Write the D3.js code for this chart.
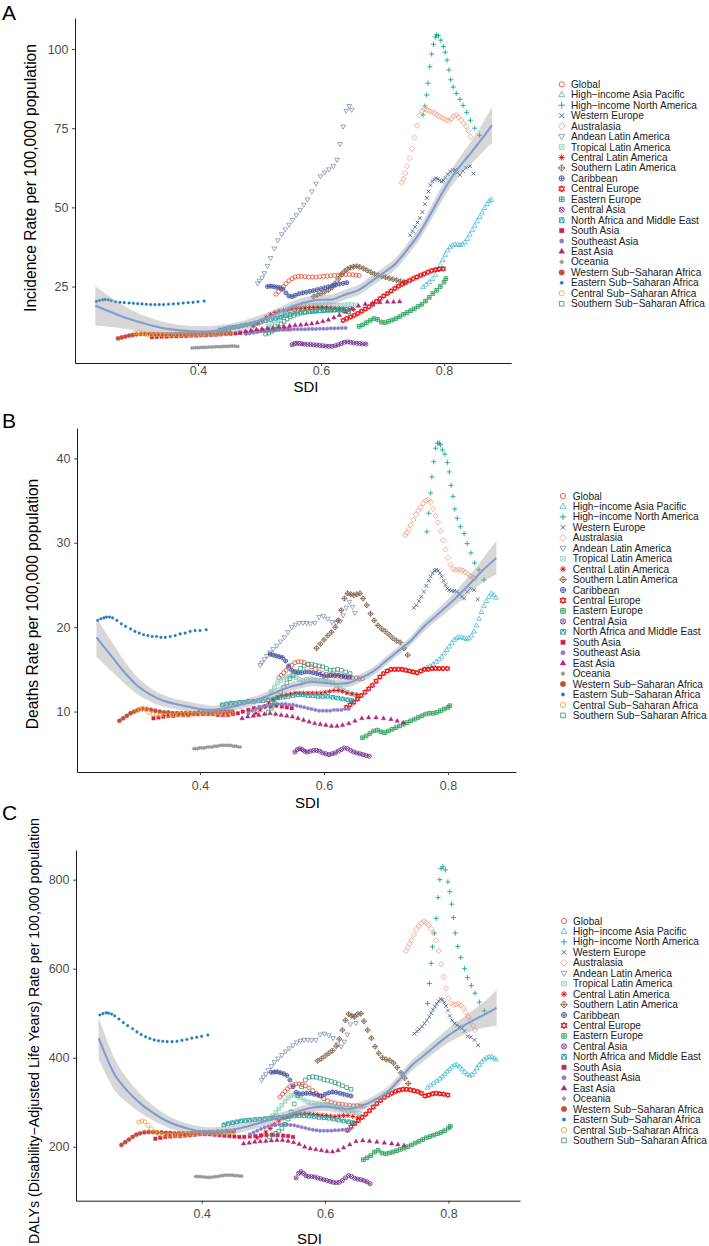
<!DOCTYPE html>
<html><head><meta charset="utf-8">
<script src="https://cdn.jsdelivr.net/npm/d3@7"></script>
<style>body{margin:0;background:#fff;}svg{display:block;font-family:"Liberation Sans",Arial,sans-serif;}</style>
</head><body><svg id="c" width="709" height="1246"></svg>
<script>
// ---------------- DATA ----------------
const regionNames = ["Global","High\u2212income Asia Pacific","High\u2212income North America","Western Europe","Australasia","Andean Latin America","Tropical Latin America","Central Latin America","Southern Latin America","Caribbean","Central Europe","Eastern Europe","Central Asia","North Africa and Middle East","South Asia","Southeast Asia","East Asia","Oceania","Western Sub\u2212Saharan Africa","Eastern Sub\u2212Saharan Africa","Central Sub\u2212Saharan Africa","Southern Sub\u2212Saharan Africa"];
const regionColors = ["#E64B35","#4DBBD5","#00A087","#3C5488","#F39B7F","#8491B4","#91D1C2","#DC0000","#7E6148","#3D4DA0","#ED0000","#1F9A50","#6E2A8E","#13989A","#D0204A","#8D7EC9","#B0287A","#999999","#C44E3C","#1F7CC0","#F0A030","#3A9A7A"];
const regionShapes = [1,2,3,4,5,6,7,8,9,10,11,12,13,14,15,16,17,18,19,20,21,22];

const sdiGlobal=[0.527,0.531,0.535,0.539,0.543,0.548,0.553,0.558,0.563,0.568,0.574,0.580,0.586,0.592,0.598,0.604,0.610,0.616,0.622,0.628,0.634,0.640,0.646,0.652,0.657,0.662];
const incGlobal=[22.6,23.4,24.2,25.0,25.9,26.8,27.5,28.0,28.2,28.2,28.1,28.0,28.0,28.0,28.1,28.2,28.3,28.4,28.5,28.6,28.7,28.8,28.8,28.7,28.6,28.5];
const dthGlobal=[14.0,14.3,14.6,14.9,15.2,15.5,15.8,15.9,15.9,15.8,15.6,15.3,15.0,14.7,14.5,14.4,14.3,14.2,14.2,14.1,14.1,14.0,14.0,14.0,13.9,13.9];
const dalyGlobal=[312,318,324,330,335,339,341,341,340,337,332,326,320,314,308,303,300,298,296,295,294,293,292,292,291,291];

const sdiHIAP=[0.766,0.771,0.776,0.781,0.786,0.790,0.794,0.798,0.802,0.806,0.810,0.814,0.818,0.822,0.826,0.830,0.834,0.838,0.842,0.846,0.850,0.854,0.858,0.862,0.866,0.870,0.874,0.877];
const incHIAP=[24.8,25.6,26.4,27.3,28.6,30.2,31.8,33.4,35.0,36.4,37.4,38.0,38.3,38.2,38.1,38.3,39.0,40.0,41.4,42.8,44.2,45.6,47.0,48.4,49.8,51.0,52.0,52.4];
const dthHIAP=[15.2,15.4,15.6,15.9,16.2,16.5,16.9,17.3,17.7,18.1,18.5,18.7,18.8,18.8,18.7,18.6,18.7,19.0,19.5,20.2,21.0,21.8,22.5,23.1,23.6,24.0,23.8,23.5];
const dalyHIAP=[333,338,343,348,353,358,363,369,375,380,384,384,380,374,368,363,360,362,368,376,384,391,396,400,402,402,399,396];

const sdiHINA=[0.766,0.769,0.772,0.774,0.777,0.780,0.783,0.786,0.788,0.791,0.795,0.799,0.802,0.805,0.808,0.811,0.815,0.820,0.826,0.831,0.837,0.843,0.850,0.858];
const incHINA=[79.2,82.0,85.5,89.2,94.4,98.4,101.5,103.8,104.5,104.2,102.8,100.8,99.0,96.5,93.4,90.3,88.0,86.0,84.1,82.2,80.0,77.5,75.0,72.8];
const dthHINA=[31.3,33.5,35.9,37.8,39.6,41.2,41.8,41.8,41.6,41.0,40.5,39.5,38.4,36.8,35.5,34.0,32.9,31.9,31.1,29.9,28.8,27.6,26.8,25.6];
const dalyHINA=[522,567,612,649,680,713,760,800,825,829,822,795,773,745,715,680,650,625,600,580,562,545,525,505];

const sdiWE=[0.745,0.749,0.753,0.757,0.761,0.765,0.769,0.772,0.775,0.778,0.781,0.784,0.787,0.790,0.793,0.796,0.799,0.802,0.806,0.810,0.814,0.818,0.822,0.826,0.831,0.836,0.842,0.848];
const incWE=[41.2,42.5,43.8,45.2,46.6,48.5,51.0,53.0,55.0,57.0,58.2,58.8,59.2,59.0,58.5,58.2,58.5,59.4,60.5,61.3,61.8,61.8,61.0,60.2,61.5,62.5,63.0,60.7];
const dthWE=[22.3,22.6,23.1,23.6,24.2,24.9,25.5,26.0,26.4,26.7,26.8,26.7,26.4,26.0,25.5,25.0,24.6,24.4,24.3,24.3,24.2,24.0,23.6,23.4,24.2,24.6,24.4,23.3];
const dalyWE=[454,459,464,470,477,484,492,500,508,515,521,527,532,530,524,516,506,494,484,477,473,470,466,460,448,446,440,428];

const sdiAUS=[0.731,0.734,0.737,0.740,0.744,0.748,0.752,0.756,0.760,0.764,0.768,0.772,0.776,0.780,0.784,0.788,0.792,0.796,0.800,0.804,0.808,0.812,0.816,0.820,0.824,0.828,0.832,0.836,0.840,0.843];
const incAUS=[57.8,59.0,60.8,63.0,65.5,68.5,72.0,75.8,79.0,80.5,81.0,80.8,80.5,80.2,79.8,79.3,78.8,78.4,78.0,77.6,77.4,78.0,78.8,79.2,78.5,77.6,76.6,75.6,74.2,72.3];
const dthAUS=[30.9,31.2,31.6,32.1,32.7,33.3,33.8,34.2,34.7,35.0,35.1,34.8,34.0,33.2,32.4,31.4,30.3,29.2,28.2,27.4,26.9,26.8,26.8,26.8,26.7,26.5,26.3,26.1,25.9,25.8];
const dalyAUS=[640,648,656,664,676,688,696,702,706,704,698,690,680,664,640,610,582,556,534,522,519,520,521,518,512,502,492,483,472,462];

const sdiAND=[0.497,0.500,0.504,0.508,0.513,0.518,0.524,0.530,0.536,0.542,0.548,0.554,0.560,0.566,0.572,0.578,0.585,0.592,0.599,0.606,0.613,0.620,0.626,0.631,0.636,0.641,0.646,0.650];
const incAND=[26.0,26.8,27.8,29.2,31.5,34.0,37.0,39.6,41.5,43.0,44.5,46.0,47.5,49.2,50.8,52.5,55.0,57.5,59.8,61.0,62.0,63.0,65.0,70.0,75.5,80.5,82.0,80.8];
const dthAND=[15.5,15.8,16.2,16.6,17.0,17.4,17.8,18.3,18.8,19.4,20.0,20.3,20.5,20.5,20.5,20.4,20.5,21.2,21.3,21.0,20.6,20.5,20.7,21.4,22.3,23.0,22.4,21.7];
const dalyAND=[350,356,363,372,381,390,398,406,414,421,428,434,438,440,440,439,440,452,454,450,444,430,425,436,452,475,494,478];

const sdiTLA=[0.515,0.520,0.525,0.530,0.535,0.540,0.545,0.550,0.555,0.560,0.566,0.572,0.578,0.584,0.590,0.596,0.602,0.608,0.614,0.620,0.626,0.632,0.638,0.644,0.650,0.656];
const incTLA=[12.5,13.0,13.6,14.3,15.2,16.2,17.2,18.0,18.5,18.8,18.9,18.9,19.0,19.0,19.1,19.2,19.2,19.3,19.3,19.2,19.1,19.1,19.2,19.3,19.3,19.2];
const dthTLA=[12.4,12.9,13.4,13.7,14.0,14.1,14.2,14.2,14.0,13.8,13.7,13.8,13.9,13.8,13.7,13.7,13.6,13.5,13.4,13.1,12.8,12.5,12.3,12.1,12.0,11.8];
const dalyTLA=[270,277,285,293,302,310,315,316,314,310,305,301,299,298,297,296,295,293,291,288,285,282,280,278,276,275];

const sdiCLA=[0.490,0.497,0.504,0.511,0.518,0.525,0.532,0.539,0.546,0.553,0.560,0.567,0.574,0.581,0.588,0.595,0.602,0.609,0.616,0.623,0.630,0.637,0.645,0.653];
const incCLA=[12.5,13.3,14.3,15.3,16.2,16.8,17.2,17.5,17.7,17.9,18.0,18.1,18.2,18.3,18.3,18.4,18.4,18.3,18.2,18.1,18.0,17.9,17.8,17.8];
const dthCLA=[9.8,10.2,10.6,11.0,11.4,11.7,11.9,12.0,12.1,12.2,12.2,12.2,12.2,12.2,12.2,12.2,12.3,12.4,12.5,12.5,12.4,12.2,12.1,12.0];
const dalyCLA=[220,226,233,241,250,258,264,268,271,273,274,275,274,273,272,271,270,269,268,269,270,270,268,265];

const sdiSLA=[0.588,0.594,0.600,0.606,0.612,0.618,0.623,0.628,0.633,0.638,0.643,0.648,0.653,0.658,0.663,0.669,0.675,0.681,0.687,0.693,0.699,0.705,0.711,0.717,0.723,0.729,0.735];
const incSLA=[21.8,22.3,22.8,23.3,23.9,24.8,26.0,27.4,28.8,29.8,30.5,31.0,31.3,31.4,31.2,30.7,30.1,29.5,29.0,28.6,28.2,27.9,27.6,27.3,27.0,26.7,26.4];
const dthSLA=[17.5,18.0,18.5,19.0,19.4,20.0,20.8,22.0,23.4,24.0,23.9,23.8,23.9,24.0,23.4,22.6,21.6,20.8,20.2,19.8,19.5,19.1,18.7,18.4,18.2,17.5,16.7];
const dalySLA=[393,398,404,410,416,426,442,462,484,498,494,492,498,499,482,462,444,425,410,400,396,394,388,378,366,354,342];

const sdiCAR=[0.513,0.518,0.523,0.528,0.533,0.538,0.543,0.548,0.553,0.558,0.564,0.570,0.576,0.582,0.588,0.594,0.600,0.606,0.612,0.618,0.624,0.630,0.636,0.642];
const incCAR=[25.0,25.1,25.0,24.8,24.6,24.2,23.0,22.0,21.8,22.2,22.7,23.0,23.2,23.5,23.7,24.0,24.3,24.6,24.9,25.2,25.5,25.8,26.0,26.2];
const dthCAR=[16.8,16.7,16.6,16.5,16.4,16.0,15.4,14.9,14.7,14.6,14.6,14.7,14.7,14.6,14.5,14.4,14.2,14.2,14.3,14.3,14.3,14.2,14.1,14.1];
const dalyCAR=[367,368,368,366,364,360,350,335,322,319,319,320,320,318,316,314,318,321,323,322,320,318,316,314];

const sdiCE=[0.636,0.642,0.648,0.654,0.660,0.666,0.672,0.678,0.684,0.690,0.696,0.702,0.708,0.714,0.720,0.726,0.732,0.738,0.744,0.750,0.756,0.762,0.768,0.774,0.780,0.786,0.792,0.799];
const incCE=[14.3,14.9,15.4,15.9,16.5,17.2,17.9,18.6,19.4,20.3,21.2,22.0,22.8,23.6,24.4,25.1,25.7,26.3,26.9,27.5,28.0,28.5,29.0,29.5,30.0,30.3,30.5,30.6];
const dthCE=[10.5,10.8,11.1,11.5,11.9,12.3,12.7,13.1,13.6,14.1,14.5,14.8,15.0,15.0,15.0,15.0,14.9,14.8,14.7,14.6,14.8,15.0,15.0,15.1,15.1,15.1,15.1,15.1];
const dalyCE=[237,245,252,259,266,273,281,289,297,304,311,316,320,324,327,329,329,328,326,324,320,314,316,319,320,319,318,316];

const sdiEE=[0.662,0.668,0.674,0.680,0.686,0.692,0.698,0.704,0.710,0.716,0.722,0.728,0.734,0.740,0.746,0.752,0.758,0.764,0.770,0.776,0.782,0.788,0.794,0.800,0.803];
const incEE=[12.4,12.9,13.6,14.3,14.9,14.6,13.8,13.6,14.0,14.4,14.9,15.5,16.2,16.8,17.4,18.0,18.7,19.4,20.4,21.6,22.8,23.8,25.0,26.4,27.5];
const dthEE=[6.9,7.1,7.4,7.7,7.8,7.6,7.5,7.7,7.9,8.1,8.3,8.5,8.7,8.9,9.1,9.3,9.5,9.7,9.8,9.8,9.9,10.1,10.3,10.5,10.7];
const dalyEE=[171,175,180,188,192,186,184,186,188,191,194,197,200,204,208,212,216,220,223,226,229,232,236,242,246];

const sdiCA=[0.553,0.557,0.561,0.565,0.569,0.573,0.578,0.583,0.588,0.593,0.598,0.603,0.608,0.613,0.618,0.623,0.628,0.633,0.638,0.643,0.648,0.653,0.658,0.663,0.668,0.673];
const incCA=[6.6,7.0,7.1,7.0,6.9,6.8,6.7,6.7,6.6,6.5,6.4,6.3,6.2,6.1,6.1,6.3,6.6,7.0,7.4,7.5,7.4,7.2,7.1,7.0,6.9,6.8];
const dthCA=[5.2,5.5,5.6,5.5,5.3,5.2,5.3,5.4,5.4,5.3,5.1,5.0,4.9,5.0,5.1,5.3,5.5,5.7,5.6,5.4,5.2,5.1,5.0,4.9,4.8,4.7];
const dalyCA=[130,140,144,140,135,133,133,132,130,128,126,124,122,120,119,120,124,130,135,133,129,127,126,124,121,117];

const sdiNAME=[0.436,0.443,0.450,0.457,0.464,0.471,0.478,0.486,0.494,0.502,0.510,0.518,0.526,0.534,0.542,0.550,0.558,0.566,0.574,0.582,0.590,0.598,0.606,0.614,0.622,0.630,0.638,0.645];
const incNAME=[11.3,11.6,11.9,12.1,12.3,12.6,12.9,13.2,13.5,13.8,14.2,14.6,15.0,15.4,15.8,16.2,16.6,16.9,17.1,17.2,17.3,17.4,17.5,17.6,17.6,17.5,17.3,17.0];
const dthNAME=[10.8,10.9,11.0,11.0,11.1,11.1,11.2,11.2,11.3,11.3,11.4,11.5,11.6,11.7,11.8,11.9,12.0,12.0,11.9,11.9,11.8,11.8,11.8,11.7,11.6,11.5,11.4,11.3];
const dalyNAME=[249,252,254,256,258,259,260,261,262,263,264,265,266,267,268,269,270,270,269,268,266,265,264,262,260,258,256,254];

const sdiSA=[0.325,0.333,0.341,0.349,0.357,0.365,0.373,0.381,0.389,0.397,0.405,0.413,0.421,0.429,0.437,0.445,0.453,0.461,0.469,0.478,0.487,0.496,0.505,0.514,0.523,0.532,0.540,0.548];
const incSA=[9.0,9.1,9.2,9.2,9.3,9.3,9.4,9.4,9.5,9.5,9.6,9.6,9.7,9.8,9.9,10.0,10.1,10.2,10.4,10.6,10.8,11.0,11.2,11.4,11.5,11.6,11.6,11.5];
const dthSA=[9.2,9.3,9.4,9.5,9.5,9.6,9.6,9.6,9.7,9.7,9.7,9.7,9.7,9.6,9.6,9.6,9.7,9.8,10.0,10.2,10.4,10.5,10.6,10.6,10.7,10.6,10.5,10.4];
const dalySA=[218,220,222,223,224,224,225,226,227,228,228,228,227,226,225,224,223,222,222,223,224,225,226,227,226,225,224,222];

const sdiSEA=[0.478,0.484,0.490,0.496,0.502,0.508,0.514,0.520,0.526,0.532,0.538,0.544,0.550,0.556,0.562,0.568,0.574,0.580,0.586,0.592,0.598,0.604,0.610,0.616,0.622,0.628,0.634,0.640];
const incSEA=[10.0,10.2,10.4,10.6,10.8,10.9,11.0,11.1,11.2,11.3,11.3,11.4,11.4,11.5,11.5,11.5,11.5,11.6,11.6,11.6,11.7,11.7,11.7,11.8,11.8,11.8,11.9,11.9];
const dthSEA=[9.8,10.1,10.3,10.5,10.6,10.7,10.8,10.9,10.9,10.9,10.9,10.8,10.8,10.7,10.6,10.5,10.4,10.3,10.2,10.1,10.1,10.1,10.1,10.2,10.2,10.2,10.3,10.3];
const dalySEA=[228,232,236,240,243,246,248,249,250,250,250,249,248,246,244,242,240,238,237,236,236,236,236,237,237,238,238,239];

const sdiEA=[0.468,0.477,0.486,0.495,0.504,0.513,0.522,0.531,0.540,0.549,0.558,0.567,0.576,0.585,0.594,0.603,0.612,0.621,0.630,0.640,0.650,0.661,0.672,0.684,0.696,0.708,0.718,0.728];
const incEA=[10.4,10.8,11.1,11.4,11.6,11.8,12.0,12.2,12.4,12.6,12.8,12.9,13.1,13.3,13.6,14.0,14.5,15.2,16.0,17.0,18.0,18.9,19.5,19.8,20.0,20.2,20.2,20.3];
const dthEA=[9.2,9.4,9.5,9.6,9.7,9.8,9.7,9.6,9.5,9.4,9.2,9.0,8.8,8.6,8.5,8.4,8.3,8.3,8.4,8.6,8.9,9.2,9.3,9.3,9.2,9.1,8.9,8.7];
const dalyEA=[207,209,211,212,213,214,215,215,213,210,206,200,196,194,192,190,189,192,198,205,212,214,213,211,209,207,205,203];

const sdiOCE=[0.390,0.393,0.396,0.399,0.402,0.405,0.408,0.411,0.414,0.417,0.420,0.423,0.426,0.429,0.432,0.435,0.438,0.441,0.444,0.447,0.450,0.453,0.456,0.459,0.462,0.465];
const incOCE=[5.6,5.6,5.7,5.7,5.7,5.8,5.8,5.8,5.8,5.9,5.9,5.9,5.9,6.0,6.0,6.0,6.0,6.1,6.1,6.1,6.1,6.2,6.2,6.2,6.1,6.1];
const dthOCE=[5.6,5.6,5.6,5.7,5.7,5.7,5.7,5.8,5.8,5.8,5.8,5.9,5.9,5.9,6.0,6.0,6.0,6.0,6.0,6.0,6.0,5.9,5.9,5.9,5.8,5.8];
const dalyOCE=[133,133,133,133,132,132,131,131,131,132,132,133,133,134,135,135,136,136,136,136,136,135,135,135,134,134];

const sdiWSSA=[0.270,0.276,0.282,0.288,0.294,0.300,0.307,0.314,0.321,0.328,0.335,0.342,0.349,0.356,0.363,0.370,0.377,0.384,0.391,0.398,0.405,0.412,0.419,0.426,0.433,0.440,0.446,0.452];
const incWSSA=[8.6,8.9,9.2,9.5,9.7,9.9,10.0,10.0,10.0,10.0,9.9,9.9,9.9,9.9,9.9,10.0,10.0,10.0,10.1,10.1,10.1,10.2,10.2,10.2,10.3,10.3,10.4,10.4];
const dthWSSA=[8.9,9.2,9.5,9.8,10.0,10.2,10.3,10.3,10.2,10.1,10.0,9.9,9.9,9.8,9.8,9.8,9.8,9.8,9.8,9.9,9.9,9.9,9.9,10.0,10.0,10.0,10.0,10.0];
const dalyWSSA=[204,210,216,222,227,230,232,233,233,232,232,231,231,230,230,230,230,231,231,232,232,233,233,234,234,235,235,235];

const sdiESSA=[0.235,0.240,0.245,0.249,0.254,0.259,0.266,0.273,0.280,0.288,0.295,0.302,0.309,0.316,0.323,0.330,0.337,0.344,0.352,0.360,0.368,0.376,0.384,0.392,0.400,0.410];
const incESSA=[20.3,20.6,20.8,20.9,20.8,20.5,20.2,20.0,19.9,19.8,19.7,19.6,19.5,19.4,19.3,19.3,19.3,19.3,19.4,19.5,19.6,19.8,19.9,20.0,20.2,20.4];
const dthESSA=[20.8,21.0,21.1,21.2,21.2,21.1,20.8,20.4,20.1,19.8,19.5,19.3,19.1,19.0,18.9,18.9,18.8,18.8,18.9,19.0,19.2,19.3,19.5,19.6,19.6,19.7];
const dalyESSA=[496,499,501,500,498,494,487,479,472,465,458,452,447,443,440,438,437,436,436,437,439,441,444,446,448,451];

const sdiCSSA=[0.298,0.303,0.308,0.313,0.318,0.324,0.330,0.336,0.342,0.348,0.354,0.360,0.366,0.372,0.378,0.384,0.390,0.396,0.402,0.408,0.414,0.420,0.426,0.432,0.438,0.444,0.450];
const incCSSA=[10.4,10.5,10.3,10.1,9.9,9.8,9.7,9.7,9.7,9.7,9.7,9.7,9.8,9.8,9.8,9.8,9.8,9.9,9.9,9.9,9.9,10.0,10.0,10.0,10.1,10.1,10.1];
const dthCSSA=[10.1,10.3,10.4,10.2,9.9,9.7,9.6,9.6,9.6,9.6,9.6,9.6,9.7,9.7,9.7,9.7,9.7,9.7,9.8,9.8,9.8,9.8,9.8,9.8,9.8,9.8,9.8];
const dalyCSSA=[255,258,256,248,240,233,229,227,226,226,226,226,227,227,228,228,229,229,230,230,231,231,231,232,232,232,232];

const sdiSSSA=[0.510,0.515,0.520,0.525,0.530,0.535,0.540,0.545,0.550,0.556,0.562,0.568,0.574,0.580,0.586,0.592,0.598,0.604,0.610,0.616,0.622,0.628,0.635,0.642];
const incSSSA=[10.0,10.3,10.8,11.5,12.3,13.2,14.0,14.8,15.4,15.9,16.3,16.6,16.8,17.0,17.1,17.2,17.3,17.4,17.5,17.5,17.6,17.7,17.8,17.8];
const dthSSSA=[9.9,10.4,11.0,11.7,12.3,12.9,13.4,13.9,14.3,14.7,15.1,15.4,15.6,15.6,15.5,15.4,15.3,15.1,14.9,14.9,15.0,14.9,14.7,14.5];
const dalySSSA=[222,226,230,235,241,250,262,278,296,315,335,350,356,357,356,354,351,349,347,344,341,337,333,329];

// smoothed fit and half-width of its confidence band
const smoothSDI=[0.233,0.26,0.28,0.30,0.32,0.34,0.36,0.38,0.40,0.42,0.44,0.46,0.48,0.50,0.52,0.54,0.56,0.58,0.60,0.62,0.64,0.66,0.68,0.70,0.72,0.74,0.76,0.78,0.80,0.82,0.84,0.86,0.878];
const fitInc=[19.0,16.8,15.3,14.0,12.9,12.0,11.4,11.0,10.8,10.9,11.3,12.0,13.0,14.3,15.7,17.5,19.2,20.3,20.8,21.0,22.5,23.8,26.4,29.1,32.0,36.6,41.8,48.5,55.5,61.5,66.3,71.2,76.0];
const bandInc=[6.2,4.6,3.6,2.8,2.3,2.0,1.8,1.7,1.7,1.6,1.6,1.6,1.6,1.6,1.6,1.6,1.6,1.6,1.6,1.6,1.6,1.6,1.7,1.7,1.8,1.9,2.0,2.2,2.4,2.8,3.4,4.4,5.6];
const fitDth=[18.8,16.3,14.5,13.0,12.0,11.3,10.9,10.6,10.3,10.2,10.4,10.7,11.1,11.6,12.2,12.8,13.2,13.5,13.4,13.3,13.4,14.0,14.8,16.0,17.2,18.4,20.0,21.3,22.6,24.0,25.5,27.0,28.2];
const bandDth=[2.3,1.7,1.3,1.0,0.8,0.7,0.6,0.6,0.6,0.5,0.5,0.5,0.5,0.5,0.5,0.5,0.5,0.5,0.5,0.5,0.5,0.5,0.5,0.5,0.5,0.5,0.6,0.6,0.7,0.9,1.1,1.5,2.0];
const fitDaly=[444,360,325,298,277,260,248,240,235,234,236,241,248,256,264,272,281,288,290,287,285,292,305,322,350,382,405,428,450,468,484,498,512];
const bandDaly=[47,35,27,21,17,14,12,11,10,10,10,10,10,10,10,10,10,10,10,10,10,10,10,11,11,12,13,14,16,19,23,30,40];

const xTicks=[0.4,0.6,0.8];
const yTicksInc=[25,50,75,100];
const yTicksDth=[10,20,30,40];
const yTicksDaly=[200,400,600,800];

// ---------------- TABLES ----------------
const sdiList=[sdiGlobal,sdiHIAP,sdiHINA,sdiWE,sdiAUS,sdiAND,sdiTLA,sdiCLA,sdiSLA,sdiCAR,sdiCE,sdiEE,sdiCA,sdiNAME,sdiSA,sdiSEA,sdiEA,sdiOCE,sdiWSSA,sdiESSA,sdiCSSA,sdiSSSA];
const incList=[incGlobal,incHIAP,incHINA,incWE,incAUS,incAND,incTLA,incCLA,incSLA,incCAR,incCE,incEE,incCA,incNAME,incSA,incSEA,incEA,incOCE,incWSSA,incESSA,incCSSA,incSSSA];
const dthList=[dthGlobal,dthHIAP,dthHINA,dthWE,dthAUS,dthAND,dthTLA,dthCLA,dthSLA,dthCAR,dthCE,dthEE,dthCA,dthNAME,dthSA,dthSEA,dthEA,dthOCE,dthWSSA,dthESSA,dthCSSA,dthSSSA];
const dalyList=[dalyGlobal,dalyHIAP,dalyHINA,dalyWE,dalyAUS,dalyAND,dalyTLA,dalyCLA,dalySLA,dalyCAR,dalyCE,dalyEE,dalyCA,dalyNAME,dalySA,dalySEA,dalyEA,dalyOCE,dalyWSSA,dalyESSA,dalyCSSA,dalySSSA];

const panels=[
 {vals:incList,fit:fitInc,band:bandInc,yticks:yTicksInc,letter:"A",title:"Incidence Rate per 100,000 population",
  xr:[75,511],xd:[0.2,0.909],yr:[363,18],yd:[0.85,109.8],tX:31,tY:178,tFs:15.6,letY:20,xlabOff:8,sdiX:306,sdiY:386.5,legX:561.7,legTX:571,legY:84.3},
 {vals:dthList,fit:fitDth,band:bandDth,yticks:yTicksDth,letter:"B",title:"Deaths Rate per 100,000 population",
  xr:[77,516],xd:[0.2016,0.9097],yr:[772,428],yd:[2.84,43.6],tX:33,tY:604,tFs:15.6,letY:428,xlabOff:13.5,sdiX:307.5,sdiY:803,legX:563,legTX:572.7,legY:496},
 {vals:dalyList,fit:fitDaly,band:bandDaly,yticks:yTicksDaly,letter:"C",title:"DALYs (Disability\u2212Adjusted Life Years) Rate per 100,000 population",
  xr:[76,520],xd:[0.1963,0.9159],yr:[1200.7,850],yd:[78.7,866.7],tX:34,tY:1031,tFs:14.2,letY:820,xlabOff:12.5,sdiX:309.5,sdiY:1239,legX:564,legTX:573,legY:921}
];

// ---------------- MARKERS ----------------
function sym(code,r){
 const c=q=>`M${q},0A${q},${q} 0 1,1 ${-q},0A${q},${q} 0 1,1 ${q},0Z`;
 const sq=s=>`M${-s},${-s}H${s}V${s}H${-s}Z`;
 const plus=s=>`M${-s},0H${s}M0,${-s}V${s}`;
 const cross=s=>`M${-s},${-s}L${s},${s}M${-s},${s}L${s},${-s}`;
 const triU=s=>`M0,${-s*1.1}L${s},${s*0.65}L${-s},${s*0.65}Z`;
 const triD=s=>`M0,${s*1.1}L${s},${-s*0.65}L${-s},${-s*0.65}Z`;
 const dia=s=>`M0,${-s}L${s},0L0,${s}L${-s},0Z`;
 switch(code){
  case 1:return{d:c(r),f:0};
  case 2:return{d:triU(r*1.15),f:0};
  case 3:return{d:plus(r*1.25),f:0};
  case 4:return{d:cross(r*0.9),f:0};
  case 5:return{d:dia(r*1.3),f:0};
  case 6:return{d:triD(r*1.15),f:0};
  case 7:return{d:sq(r*0.9)+cross(r*0.9),f:0};
  case 8:return{d:plus(r*1.2)+cross(r*0.85),f:0};
  case 9:return{d:dia(r*1.3)+plus(r*1.3),f:0};
  case 10:return{d:c(r)+plus(r),f:0};
  case 11:return{d:triU(r*1.15)+triD(r*1.15),f:0};
  case 12:return{d:sq(r*0.9)+plus(r*0.9),f:0};
  case 13:return{d:c(r)+cross(r*0.7),f:0};
  case 14:return{d:sq(r*0.9)+`M0,${-r*0.9}L${r*0.9},${r*0.9}M0,${-r*0.9}L${-r*0.9},${r*0.9}`,f:0};
  case 15:return{d:sq(r*0.85),f:1};
  case 16:return{d:c(r*0.85),f:1};
  case 17:return{d:triU(r*1.1),f:1};
  case 18:return{d:dia(r*0.9),f:1};
  case 19:return{d:c(r*1.05),f:1};
  case 20:return{d:c(r*0.65),f:1};
  case 21:return{d:c(r),f:0};
  default:return{d:sq(r*0.9),f:0};
 }
}

// ---------------- DRAW ----------------
const svg=d3.select("#c");
svg.append("rect").attr("width",709).attr("height",1246).attr("fill","#fff");

panels.forEach(p=>{
 const x=d3.scaleLinear().domain(p.xd).range(p.xr);
 const y=d3.scaleLinear().domain(p.yd).range(p.yr);
 const g=svg.append("g");

 // points
 regionNames.forEach((nm,i)=>{
  const pts=sdiList[i].map((s,j)=>({s:s,v:p.vals[i][j]}));
  const sh=sym(regionShapes[i],2.05);
  const col=regionColors[i];
  g.append("g").selectAll("path").data(pts).join("path")
   .attr("transform",d=>`translate(${x(d.s).toFixed(2)},${y(d.v).toFixed(2)})`)
   .attr("d",sh.d)
   .attr("fill",sh.f?col:"none")
   .attr("stroke",col)
   .attr("stroke-width",sh.f?0.4:0.8);
 });

 // smooth band + line
 const sm=smoothSDI.map((s,j)=>({s:s,f:p.fit[j],lo:p.fit[j]-p.band[j],hi:p.fit[j]+p.band[j]}));
 g.append("path").datum(sm)
  .attr("d",d3.area().x(d=>x(d.s)).y0(d=>y(d.lo)).y1(d=>y(d.hi)).curve(d3.curveCatmullRom))
  .attr("fill","#9a9a9a").attr("fill-opacity",0.4);
 g.append("path").datum(sm)
  .attr("d",d3.line().x(d=>x(d.s)).y(d=>y(d.f)).curve(d3.curveCatmullRom))
  .attr("fill","none").attr("stroke","#7F9DD5").attr("stroke-width",2.1);

 // axes
 const ax=g.append("g").attr("transform",`translate(0,${p.yr[0]})`)
  .call(d3.axisBottom(x).tickValues(xTicks).tickFormat(d3.format(".1f")).tickSize(3).tickSizeOuter(0));
 ax.selectAll("text").attr("y",p.xlabOff).attr("dy","0.35em");
 const ay=g.append("g").attr("transform",`translate(${p.xr[0]},0)`)
  .call(d3.axisLeft(y).tickValues(p.yticks).tickSize(3).tickSizeOuter(0).tickPadding(3.5));
 [ax,ay].forEach(a=>{
  a.select(".domain").attr("stroke","#1a1a1a").attr("stroke-width",1);
  a.selectAll(".tick line").attr("stroke","#333").attr("stroke-width",0.9);
  a.selectAll("text").attr("fill","#4D4D4D").style("font-size","12.5px").style("font-family","'Liberation Sans',Arial,sans-serif");
 });

 // titles
 g.append("text").attr("transform",`translate(${p.tX},${p.tY}) rotate(-90)`)
  .attr("text-anchor","middle").attr("dy","0.35em").style("font-size",p.tFs+"px").attr("fill","#000").text(p.title);
 g.append("text").attr("x",p.sdiX).attr("y",p.sdiY).attr("dy","0.35em").attr("text-anchor","middle")
  .style("font-size","15px").attr("fill","#000").text("SDI");
 g.append("text").attr("x",2).attr("y",p.letY).style("font-size","21px").attr("fill","#000").text(p.letter);

 // legend
 const lg=g.append("g");
 regionNames.forEach((nm,i)=>{
  const yy=p.legY+i*10.45;
  const sh=sym(regionShapes[i],2.6);
  lg.append("path").attr("transform",`translate(${p.legX},${yy})`).attr("d",sh.d)
   .attr("fill",sh.f?regionColors[i]:"none").attr("stroke",regionColors[i]).attr("stroke-width",sh.f?0.4:0.85);
  lg.append("text").attr("x",p.legTX).attr("y",yy).attr("dy","0.35em").style("font-size","10.1px").attr("fill","#1a1a1a").text(nm);
 });
});
</script></body></html>
